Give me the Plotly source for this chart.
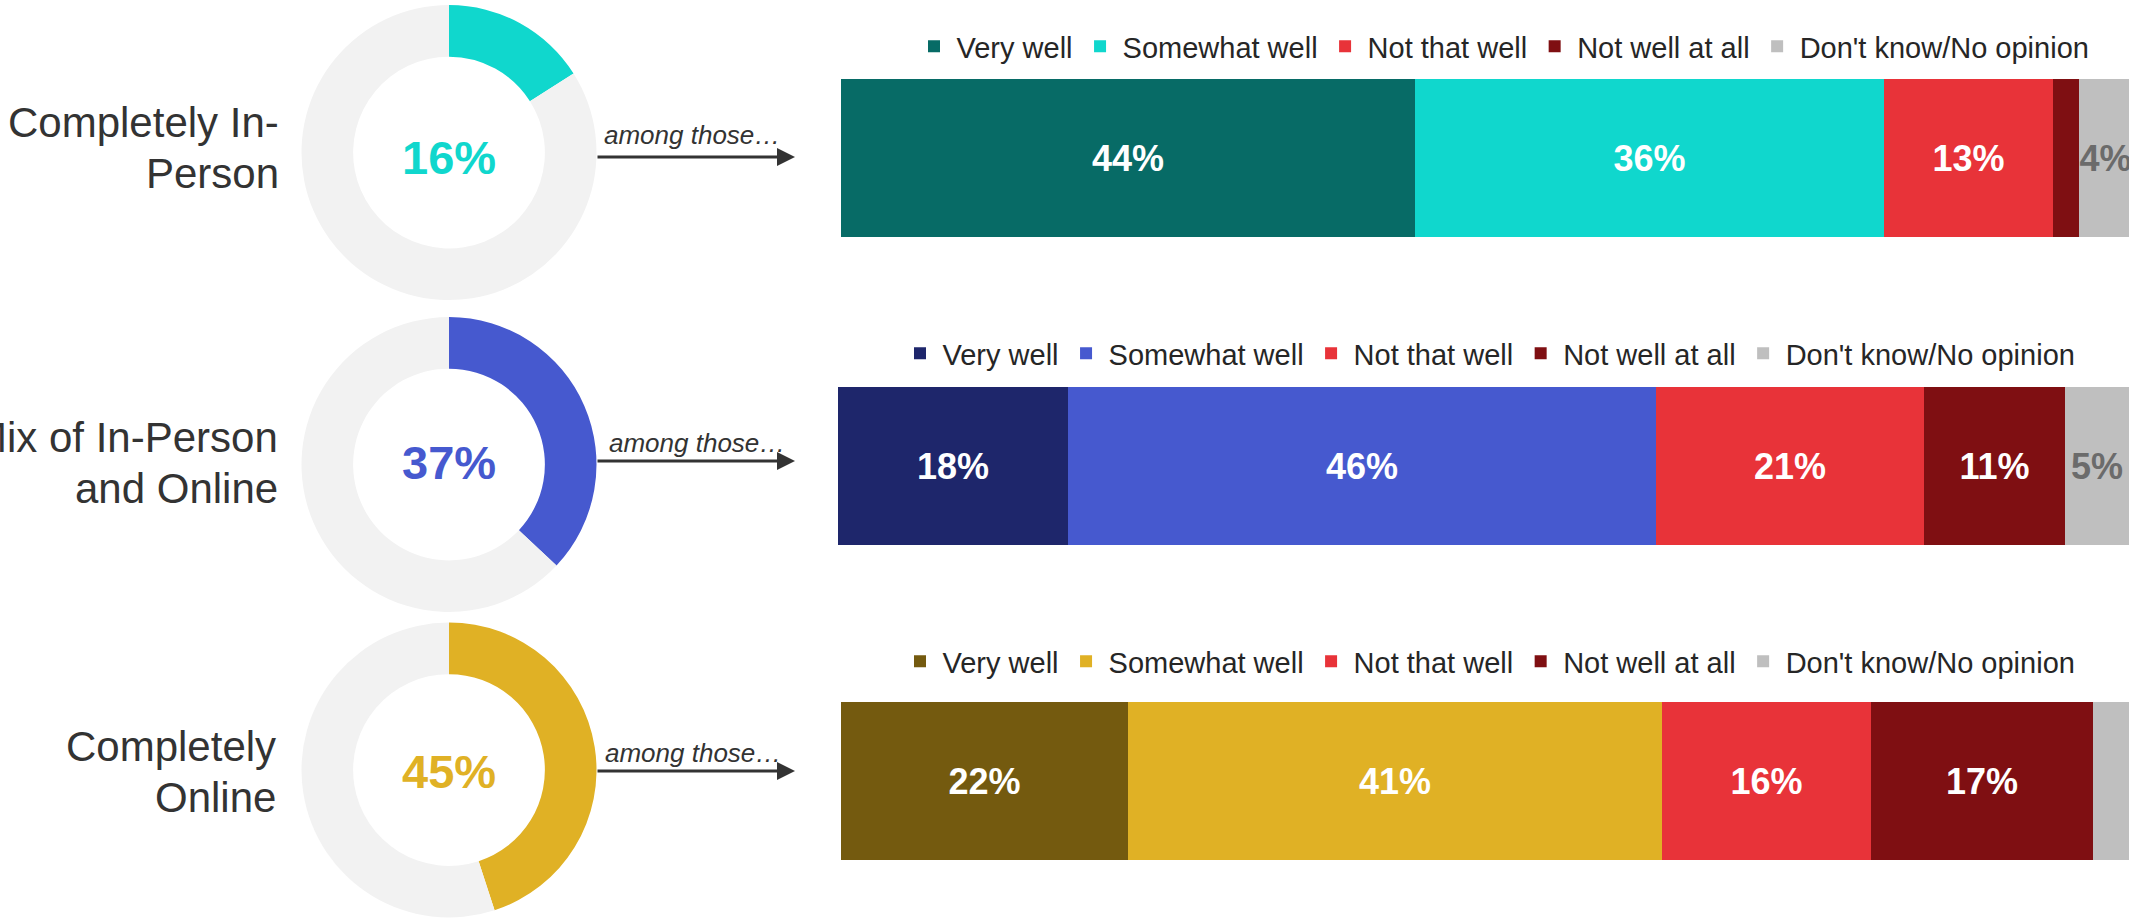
import plotly.graph_objects as go

# Data ---------------------------------------------------------------
groups = ["Completely In-Person", "Mix of In-Person and Online", "Completely Online"]
group_lines = [["Completely In-", "Person"], ["Mix of In-Person", "and Online"], ["Completely", "Online"]]
group_share = [16, 37, 45]

answers = ["Very well", "Somewhat well", "Not that well", "Not well at all", "Don't know/No opinion"]

in_person_vals = [44, 36, 13, 2, 4]
mixed_vals = [18, 46, 21, 11, 5]
online_vals = [22, 41, 16, 17, 4]

in_person_text = ["44%", "36%", "13%", "", "4%"]
mixed_text = ["18%", "46%", "21%", "11%", "5%"]
online_text = ["22%", "41%", "16%", "17%", ""]

# Styling ------------------------------------------------------------
W, H = 2129, 919
FONT = "Liberation Sans, Arial, sans-serif"
DARK = "#333333"
RING_BG = "#f2f2f2"

share_colors = ["#10d7cd", "#4659cf", "#e0b125"]
row_colors = [
    ["#076b66", "#10d7cd", "#e83339", "#7f0f12", "#bfbfbf"],
    ["#1e266b", "#4659cf", "#e83339", "#7f0f12", "#bfbfbf"],
    ["#745a0f", "#e0b125", "#e83339", "#7f0f12", "#bfbfbf"],
]
text_colors = ["white", "white", "white", "white", "#6b6b6b"]

# pixel geometry of each row
donut_cy = [152.5, 464.5, 770]
donut_cx = 449
donut_r = 147.5
share_y = [157, 462.5, 771.5]
bar_top = [79, 387, 702]
bar_bot = [237, 545, 860]
bar_x0 = [841, 838, 841]
bar_range = [98.8, 101, 98.8]
legend_cy = [46.5, 353.5, 661.5]
legend_cx = [1503, 1489, 1489]
label_right = [281, 280, 278]
label_base = [[137, 188], [451.7, 503.3], [760.7, 811.7]]
among_y = [135, 443, 753]
among_x = [602, 607, 603]
arrow_y = [157, 461, 771]

LABEL_SIZE = 42


def px(x):
    return x / W


def py(y):
    return 1 - y / H


fig = go.Figure()

rows = [
    (in_person_vals, in_person_text),
    (mixed_vals, mixed_text),
    (online_vals, online_text),
]

for r, (vals, texts) in enumerate(rows):
    # donut with the share of each group
    fig.add_trace(go.Pie(
        values=[group_share[r], 100 - group_share[r]],
        hole=0.65,
        sort=False,
        direction="clockwise",
        rotation=0,
        marker=dict(colors=[share_colors[r], RING_BG], line=dict(width=0)),
        textinfo="none",
        hoverinfo="skip",
        showlegend=False,
        domain=dict(
            x=[px(donut_cx - donut_r), px(donut_cx + donut_r)],
            y=[py(donut_cy[r] + donut_r), py(donut_cy[r] - donut_r)],
        ),
    ))

    # stacked bar for the same group
    suffix = "" if r == 0 else str(r + 1)
    for c, ans in enumerate(answers):
        fig.add_trace(go.Bar(
            x=[vals[c]],
            y=[groups[r]],
            orientation="h",
            name=ans,
            marker=dict(color=row_colors[r][c], line=dict(width=0)),
            text=[texts[c]],
            textposition="inside",
            insidetextanchor="middle",
            textangle=0,
            constraintext="none",
            textfont=dict(family=FONT, size=36, color=text_colors[c], weight="bold"),
            xaxis="x" + suffix,
            yaxis="y" + suffix,
            legend="legend" + suffix,
            hoverinfo="skip",
        ))

    fig.update_layout({
        "xaxis" + suffix: dict(
            domain=[px(bar_x0[r]), 1], range=[0, bar_range[r]], visible=False,
            anchor="y" + suffix, fixedrange=True,
        ),
        "yaxis" + suffix: dict(
            domain=[py(bar_bot[r]), py(bar_top[r])], visible=False,
            anchor="x" + suffix, fixedrange=True,
        ),
        "legend" + suffix: dict(
            orientation="h",
            x=px(legend_cx[r]), xanchor="center",
            y=py(legend_cy[r]), yanchor="middle",
            font=dict(family=FONT, size=29, color="#262626"),
            bgcolor="rgba(0,0,0,0)",
            traceorder="normal",
            itemwidth=35,
        ),
    })

    # group label (one annotation per line so the line spacing can match)
    for line, base in zip(group_lines[r], label_base[r]):
        fig.add_annotation(
            x=px(label_right[r]), y=py(base - 0.3465 * LABEL_SIZE), xref="paper", yref="paper",
            text=line, showarrow=False, xanchor="right", yanchor="middle",
            font=dict(family=FONT, size=LABEL_SIZE, color=DARK),
        )

    fig.add_annotation(
        x=px(donut_cx), y=py(share_y[r]), xref="paper", yref="paper",
        text=f"{group_share[r]}%", showarrow=False, xanchor="center", yanchor="middle",
        font=dict(family=FONT, size=47, color=share_colors[r], weight="bold"),
    )
    fig.add_annotation(
        x=px(among_x[r]), y=py(among_y[r]), xref="paper", yref="paper",
        text="among those…", showarrow=False, xanchor="left", yanchor="middle",
        font=dict(family=FONT, size=26, color=DARK, style="italic"),
    )
    fig.add_annotation(
        x=px(795), y=py(arrow_y[r]), xref="paper", yref="paper",
        ax=-199, ay=0, text="", showarrow=True,
        arrowhead=2, arrowsize=1.2, arrowwidth=3, arrowcolor=DARK,
    )

fig.update_layout(
    width=W,
    height=H,
    margin=dict(l=0, r=0, t=0, b=0),
    paper_bgcolor="white",
    plot_bgcolor="white",
    barmode="stack",
    bargap=0,
    showlegend=True,
    font=dict(family=FONT, color=DARK),
)

fig.write_html(
    "out.html",
    config={"displayModeBar": False},
    post_script="document.body.style.margin='0';",
)
